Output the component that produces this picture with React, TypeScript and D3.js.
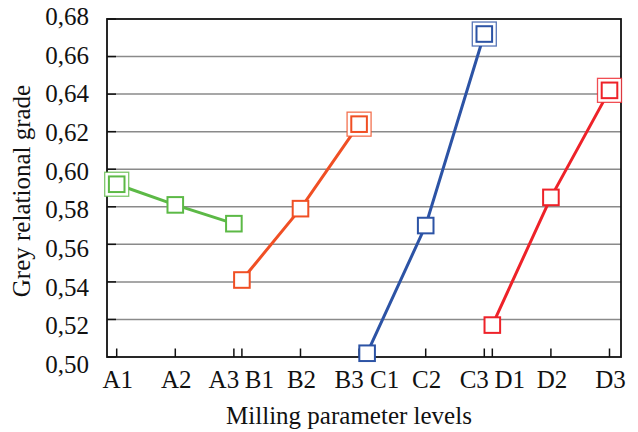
import React from "react";
import * as d3 from "d3";

const groups = ["A", "B", "C", "D"];
const levels = ["1", "2", "3"];
const seriesValues: number[][] = [
  [0.592, 0.581, 0.571],
  [0.541, 0.579, 0.624],
  [0.502, 0.57, 0.672],
  [0.517, 0.585, 0.642],
];
const seriesColors = ["#5cb946", "#f04f24", "#2c53a5", "#ee2229"];
const yTicks = [0.5, 0.52, 0.54, 0.56, 0.58, 0.6, 0.62, 0.64, 0.66, 0.68];
const yTitle = "Grey relational grade";
const xTitle = "Milling parameter levels";

const W = 638;
const H = 432;
const plot = { left: 107, right: 621, top: 19, bottom: 357 };
const GAP = 0.137;
const FAM = "Liberation Serif";

export default function App() {
  const unit = (g: number, l: number) => g * (2 + GAP) + l;
  const x = d3
    .scaleLinear()
    .domain([0, unit(groups.length - 1, levels.length - 1)])
    .range([116.7, 609.5]);
  const y = d3.scaleLinear().domain([0.5, 0.68]).range([plot.bottom, plot.top]);
  const yLab = d3.scaleLinear().domain([0.5, 0.68]).range([373, 25]);
  const line = d3
    .line<[number, number]>()
    .x((d) => d[0])
    .y((d) => d[1]);

  return (
    <svg
      width={W}
      height={H}
      fontFamily={FAM}
      fontSize={25}
      style={{ position: "absolute", left: 0, top: 0, background: "#fff", fontFamily: FAM }}
    >
      <style>{`text { font-family: "Liberation Serif"; font-size: 25px; }`}</style>
      {yTicks.slice(1, -1).map((t) => (
        <line
          key={"g" + t}
          x1={plot.left}
          x2={plot.right}
          y1={y(t)}
          y2={y(t)}
          stroke="#8a8a8a"
          strokeWidth={1.5}
        />
      ))}
      {yTicks.map((t) => (
        <line
          key={"lt" + t}
          x1={plot.left}
          x2={plot.left + 9}
          y1={y(t)}
          y2={y(t)}
          stroke="#111"
          strokeWidth={1.5}
        />
      ))}
      {groups.map((g, gi) =>
        levels.map((l, li) => (
          <line
            key={"bt" + g + l}
            x1={x(unit(gi, li))}
            x2={x(unit(gi, li))}
            y1={plot.bottom}
            y2={plot.bottom - 8.5}
            stroke="#111"
            strokeWidth={1.5}
          />
        ))
      )}
      <rect
        x={plot.left}
        y={plot.top}
        width={plot.right - plot.left}
        height={plot.bottom - plot.top}
        fill="none"
        stroke="#111"
        strokeWidth={1.8}
      />
      {seriesValues.map((vals, gi) => {
        const pts: [number, number][] = vals.map((v, li) => [x(unit(gi, li)), y(v)]);
        const maxIdx = vals.indexOf(Math.max(...vals));
        const c = seriesColors[gi];
        return (
          <g key={"s" + gi}>
            <path d={line(pts) || ""} fill="none" stroke={c} strokeWidth={3} />
            {pts.map((p, li) => (
              <g key={"m" + li}>
                {li === maxIdx && (
                  <rect
                    x={p[0] - 12}
                    y={p[1] - 12}
                    width={24}
                    height={24}
                    fill="#fff"
                    stroke={c}
                    strokeOpacity={0.8}
                    strokeWidth={1.3}
                  />
                )}
                <rect
                  x={p[0] - 7.8}
                  y={p[1] - 7.8}
                  width={15.6}
                  height={15.6}
                  fill="#fff"
                  stroke={c}
                  strokeWidth={2}
                />
              </g>
            ))}
          </g>
        );
      })}
      {yTicks.map((t) => (
        <text
          key={"yl" + t}
          x={89}
          y={yLab(t)}
          textAnchor="end"
          fontFamily={FAM}
          fill="#111"
        >
          {t.toFixed(2).replace(".", ",")}
        </text>
      ))}
      {groups.map((g, gi) =>
        levels.map((l, li) => {
          let dx = 1;
          if (li === levels.length - 1 && gi < groups.length - 1) dx = -10;
          if (li === 0 && gi > 0) dx = 17.5;
          return (
            <text
              key={"xl" + g + l}
              x={x(unit(gi, li)) + dx}
              y={388}
              textAnchor="middle"
              fontFamily={FAM}
              fill="#111"
            >
              {g + l}
            </text>
          );
        })
      )}
      <text x={349} y={424} textAnchor="middle" fontFamily={FAM} fill="#111">
        {xTitle}
      </text>
      <text
        transform={`translate(30, ${191}) rotate(-90)`}
        textAnchor="middle"
        fontFamily={FAM}
        fill="#111"
      >
        {yTitle}
      </text>
    </svg>
  );
}
